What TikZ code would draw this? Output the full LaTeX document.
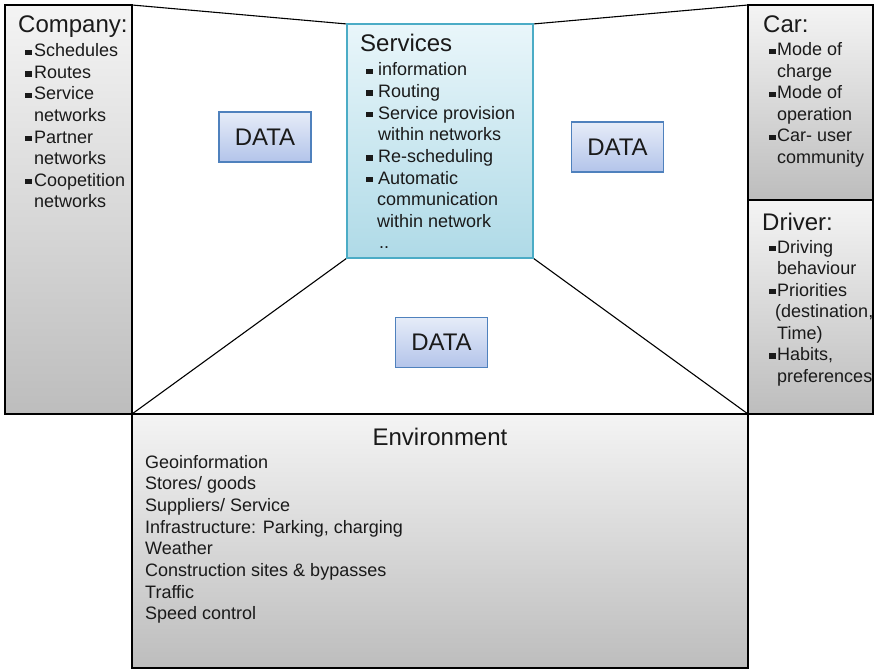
\documentclass[tikz,border=0pt]{standalone}
\usepackage{fontspec}
\setmainfont{Liberation Sans}
\definecolor{boxtop}{HTML}{F4F4F4}
\definecolor{boxbot}{HTML}{BDBDBD}
\definecolor{svtop}{HTML}{E9F6FA}
\definecolor{svbot}{HTML}{AFDAE7}
\definecolor{svline}{HTML}{4BACC6}
\definecolor{dttop}{HTML}{E6ECF8}
\definecolor{dtbot}{HTML}{B3C4EA}
\definecolor{dtline}{HTML}{4F81BD}
\definecolor{txt}{HTML}{1A1A1A}
\newcommand{\bul}[1]{\makebox[#1][l]{\rule[1.8pt]{7pt}{5.5pt}}}
\newcommand{\cont}[1]{\hspace*{#1}}
\begin{document}
\begin{tikzpicture}[x=1pt,y=-1pt,
  panel/.style={draw=black,line width=1.1pt,top color=boxtop,bottom color=boxbot},
  edge/.style={draw=black,line width=1.1pt},
  title/.style={anchor=base west,inner sep=0pt,text=txt,font=\fontsize{24}{28}\selectfont},
  item/.style={anchor=base west,inner sep=0pt,text=txt,font=\fontsize{18}{21.6}\selectfont},
  databox/.style={draw=dtline,line width=1.1pt,top color=dttop,bottom color=dtbot,
    minimum width=92pt,minimum height=50pt,inner sep=0pt,text=txt,font=\fontsize{24}{28}\selectfont}]
\useasboundingbox (0,0) rectangle (874,671);
% corners
\coordinate (coNW) at (5,5);
\coordinate (coNE) at (132,5);
\coordinate (coSE) at (132,414);
\coordinate (caNW) at (748,5);
\coordinate (caSE) at (873,200);
\coordinate (drNW) at (748,200);
\coordinate (drSW) at (748,414);
\coordinate (drSE) at (873,414);
\coordinate (enSE) at (748,668);
\coordinate (svNW) at (347,24);
\coordinate (svNE) at (533,24);
\coordinate (svSW) at (347,258);
\coordinate (svSE) at (533,258);
% perspective lines
\draw[edge] (coNE) -- (svNW);
\draw[edge] (caNW) -- (svNE);
\draw[edge] (coSE) -- (svSW);
\draw[edge] (drSW) -- (svSE);
% panels
\draw[panel] (coNW) rectangle (coSE);
\draw[panel] (caNW) rectangle (caSE);
\draw[panel] (drNW) rectangle (drSE);
\draw[panel] (coSE) rectangle (enSE);
\draw[draw=svline,line width=1.1pt,top color=svtop,bottom color=svbot] (svNW) rectangle (svSE);
% Company
\node[title] (coT) at (18,33) {Company:};
\foreach \t [count=\i from 0] in {{\bul{9pt}Schedules},{\bul{9pt}Routes},{\bul{9pt}Service},
  {\cont{9pt}networks},{\bul{9pt}Partner},{\cont{9pt}networks},{\bul{9pt}Coopetition},{\cont{9pt}networks}}
  \node[item] (co\i) at (25,57+21.5*\i) {\t};
% Car
\node[title] (caT) at (763,33) {Car:};
\foreach \t [count=\i from 0] in {{\bul{8pt}Mode of},{\cont{8pt}charge},{\bul{8pt}Mode of},
  {\cont{8pt}operation},{\bul{8pt}Car- user},{\cont{8pt}community}}
  \node[item] (ca\i) at (769,56+21.5*\i) {\t};
% Driver
\node[title] (drT) at (762,230) {Driver:};
\foreach \t [count=\i from 0] in {{\bul{8pt}Driving},{\cont{8pt}behaviour},{\bul{8pt}Priorities},
  {\cont{6pt}(destination,},{\cont{8pt}Time)},{\bul{8pt}Habits,},{\cont{8pt}preferences}}
  \node[item] (dr\i) at (769,253+21.5*\i) {\t};
% Services
\node[title] (svT) at (360,52) {Services};
\foreach \t [count=\i from 0] in {{\bul{12pt}information},{\bul{12pt}Routing},{\bul{12pt}Service provision},
  {\cont{12pt}within networks},{\bul{12pt}Re-scheduling},{\bul{12pt}Automatic},
  {\cont{11pt}communication},{\cont{11pt}within network},{\cont{13pt}..}}
  \node[item] (sv\i) at (366,76+21.6*\i) {\t};
% Environment
\node[title,anchor=base] (enT) at (440,445) {Environment};
\foreach \t [count=\i from 0] in {Geoinformation,Stores/ goods,Suppliers/ Service,
  {Infrastructure: Parking, charging},Weather,Construction sites \& bypasses,Traffic,Speed control}
  \node[item] (en\i) at (145,468+21.7*\i) {\t};
% DATA boxes
\node[databox] (d1) at (265,137) {DATA};
\node[databox] (d2) at (617.5,147) {DATA};
\node[databox] (d3) at (441.5,342.5) {DATA};
\end{tikzpicture}
\end{document}
